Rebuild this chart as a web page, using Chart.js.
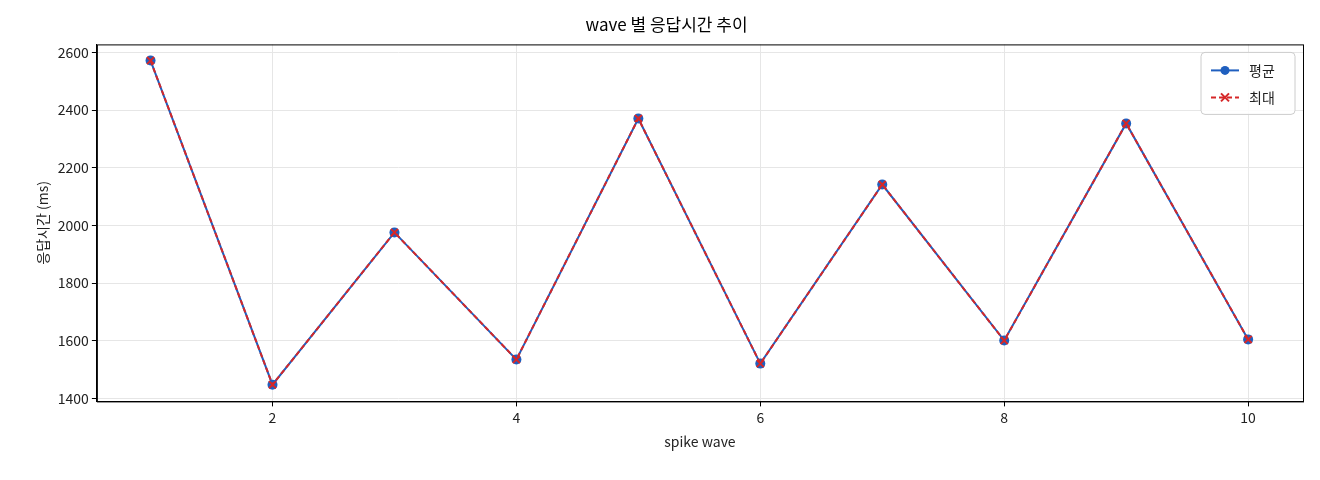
<!DOCTYPE html>
<html><head><meta charset="utf-8">
<script src="https://cdn.jsdelivr.net/npm/chart.js@4.4.0/dist/chart.umd.min.js"></script>
<style>html,body{margin:0;background:#fff}#wrap{width:1320px;height:480px}</style>
</head><body><div id="wrap"><canvas id="c"></canvas></div>
<script>
// ===== DATA =====
const waves=[1,2,3,4,5,6,7,8,9,10];
const avgMs=[2572,1448,1976,1535,2371,1521,2142,1601,2354,1605];
const maxMs=[2572,1448,1976,1535,2371,1521,2142,1601,2354,1605];
const xTicks=[2,4,6,8,10];
const yTicks=[1400,1600,1800,2000,2200,2400,2600];
const BLUE='#1f5fbf',RED='#d62728',FONT="'Noto Sans CJK KR','Noto Sans',sans-serif";

const frame={id:'frame',afterDraw(c){
  const a=c.chartArea,x=c.ctx;
  x.save();x.strokeStyle='#000';x.lineWidth=1;x.strokeRect(a.left+.5,a.top+.5,a.width,a.height);
  // legend box
  const bx=a.right-102,by=a.top+8,bw=94,bh=62;
  x.fillStyle='rgba(255,255,255,.85)';x.strokeStyle='#ccc';x.beginPath();x.roundRect(bx,by,bw,bh,4);x.fill();x.stroke();
  x.font='14px '+FONT;x.textBaseline='middle';x.fillStyle='#222';
  [[BLUE,[],'평균','o'],[RED,[5,3],'최대','x']].forEach((r,i)=>{
    const y=by+18+i*27;
    x.strokeStyle=r[0];x.lineWidth=2;x.setLineDash(r[1]);x.beginPath();x.moveTo(bx+10,y);x.lineTo(bx+38,y);x.stroke();x.setLineDash([]);
    if(r[3]==='o'){x.fillStyle=r[0];x.beginPath();x.arc(bx+24,y,4.5,0,7);x.fill();}
    else{x.beginPath();x.moveTo(bx+20,y-4);x.lineTo(bx+28,y+4);x.moveTo(bx+28,y-4);x.lineTo(bx+20,y+4);x.stroke();}
    x.fillStyle='#222';x.fillText(r[2],bx+48,y);
  });
  x.restore();
}};

Chart.defaults.font.family=FONT;Chart.defaults.color='#222';
new Chart(document.getElementById('c'),{type:'line',
  data:{datasets:[
    {label:'평균',order:1,data:waves.map((w,i)=>({x:w,y:avgMs[i]})),borderColor:BLUE,backgroundColor:BLUE,borderWidth:2,pointRadius:5,pointBorderWidth:0,tension:0},
    {label:'최대',order:0,data:waves.map((w,i)=>({x:w,y:maxMs[i]})),borderColor:RED,backgroundColor:RED,borderWidth:2,borderDash:[5,3],pointStyle:'crossRot',pointRadius:5,pointBorderWidth:2,tension:0}
  ]},
  options:{responsive:true,maintainAspectRatio:false,animation:false,
    layout:{padding:{top:6,right:17,left:30,bottom:26}},
    plugins:{legend:{display:false},tooltip:{enabled:false},
      title:{display:true,text:'wave 별 응답시간 추이',font:{size:17,weight:'normal'},color:'#000',padding:{top:8,bottom:10}}},
    scales:{
      x:{type:'linear',min:0.56,max:10.45,afterBuildTicks:s=>{s.ticks=xTicks.map(v=>({value:v}))},
        grid:{color:'#e6e6e6',tickColor:'#000',tickLength:5},border:{color:'#000'},
        ticks:{font:{size:14},color:'#222',callback:v=>String(v)},title:{display:true,text:'spike wave',font:{size:14},color:'#222'}},
      y:{min:1390,max:2628,afterBuildTicks:s=>{s.ticks=yTicks.map(v=>({value:v}))},
        grid:{color:'#e6e6e6',tickColor:'#000',tickLength:5},border:{color:'#000'},
        ticks:{font:{size:14},color:'#222',callback:v=>String(v)},title:{display:true,text:'응답시간 (ms)',font:{size:14},color:'#222'}}
    }},
  plugins:[frame]});
</script></body></html>
